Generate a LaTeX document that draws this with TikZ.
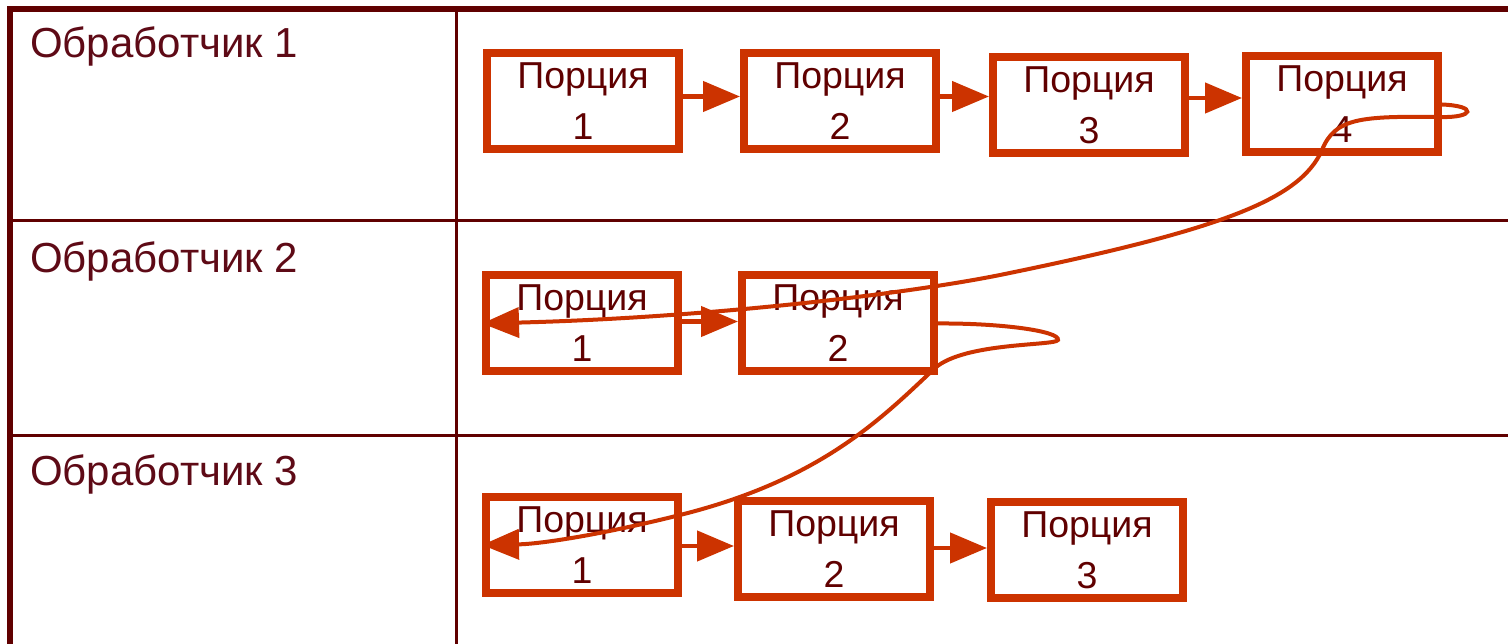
\documentclass[tikz,border=0pt]{standalone}
\usepackage{fontspec}
\setmainfont{Liberation Sans}
\usetikzlibrary{arrows.meta}
\definecolor{orng}{HTML}{CC3300}
\definecolor{bord}{HTML}{600000}
\definecolor{txt}{HTML}{5E0A16}
\tikzset{
  grid/.style={draw=bord, line width=3pt},
  gridthick/.style={draw=bord, line width=6pt},
  lab/.style={anchor=base west, inner sep=0pt, text=txt, font=\fontsize{42pt}{48pt}\selectfont},
  part/.style={draw=orng, line width=8pt, minimum width=192pt, minimum height=96pt, inner sep=0pt,
    align=center, text=bord, font=\fontsize{37.5pt}{51pt}\selectfont, fill=white},
  link/.style={draw=orng, line width=4.5pt, -{Triangle[length=37pt,width=30pt]}},
  curvelink/.style={draw=orng, line width=4pt, -{Triangle[length=37pt,width=30pt]}}
}
\begin{document}
\begin{tikzpicture}[x=1pt,y=-1pt]
\useasboundingbox (0,0) rectangle (1508,644);
% table
\draw[grid] (10,221) -- (1510,221);
\draw[grid] (10,435) -- (1510,435);
\draw[grid] (456,9) -- (456,650);
\draw[gridthick] (10,650) -- (10,9) -- (1512,9);
% labels
\node[lab] (h1) at (30,58) {Обработчик 1};
\node[lab] (h2) at (30,273) {Обработчик 2};
\node[lab] (h3) at (30,485) {Обработчик 3};
% boxes
\node[part] (b11) at (583,101.5) {Порция\\1};
\node[part] (b12) at (840,101.5) {Порция\\2};
\node[part] (b13) at (1089,105) {Порция\\3};
\node[part] (b14) at (1342,104.5) {Порция\\4};
\node[part] (b21) at (582,323.5) {Порция\\1};
\node[part] (b22) at (838,323.5) {Порция\\2};
\node[part] (b31) at (582,545) {Порция\\1};
\node[part] (b32) at (834,549) {Порция\\2};
\node[part] (b33) at (1087,550) {Порция\\3};
% short links
\draw[link] ([yshift=5pt]b11.east) -- ([yshift=5pt]b12.west);
\draw[link] ([yshift=5pt]b12.east) -- ([yshift=8.5pt]b13.west);
\draw[link] ([yshift=7pt]b13.east) -- ([yshift=6.5pt]b14.west);
\draw[link] ([yshift=2pt]b21.east) -- ([yshift=2pt]b22.west);
\draw[link] ([yshift=-1pt]b31.east) -- ([yshift=3pt]b32.west);
\draw[link] ([yshift=1pt]b32.east) -- ([yshift=2pt]b33.west);
% curved links
\draw[curvelink] (b14.east) .. controls (1478,106) and (1474,118) .. (1440,117)
  .. controls (1360,116) and (1335,118) .. (1322,150)
  .. controls (1300,200) and (1220,230) .. (1000,275)
  .. controls (900,295) and (700,318) .. (b21.west);
\draw[curvelink] (b22.east) .. controls (1000,323) and (1060,331) .. (1058,340)
  .. controls (1055,346) and (965,342) .. (935,368)
  .. controls (880,420) and (820,480) .. (680,515)
  .. controls (600,535) and (540,544) .. (b31.west);
\end{tikzpicture}
\end{document}
